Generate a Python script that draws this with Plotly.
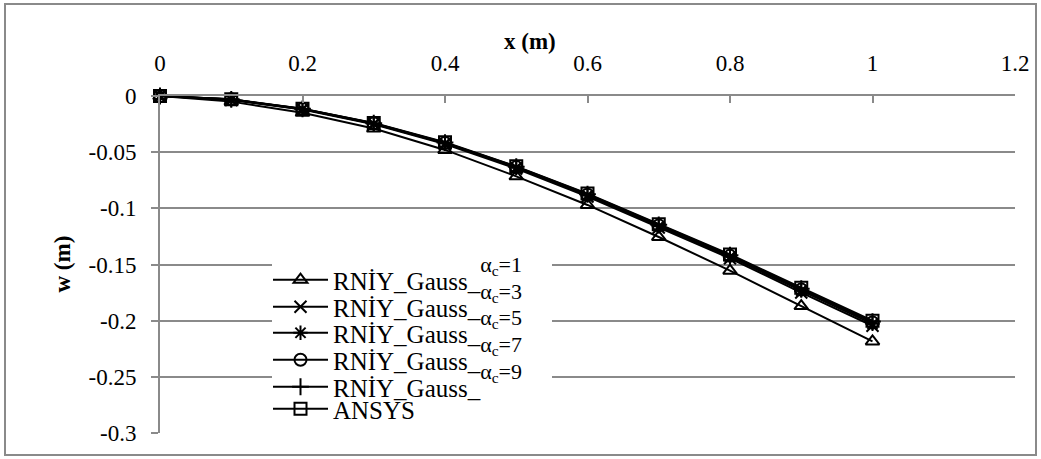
import plotly.graph_objects as go

x_vals = [0, 0.1, 0.2, 0.3, 0.4, 0.5, 0.6, 0.7, 0.8, 0.9, 1.0]

w_ac1 = [0, -0.005, -0.015, -0.029, -0.048, -0.0715, -0.097, -0.1255, -0.1555, -0.187, -0.2185]
w_ac3 = [0, -0.0035, -0.012, -0.0252, -0.0428, -0.0645, -0.0895, -0.117, -0.1445, -0.175, -0.2045]
w_ac5 = [0, -0.0032, -0.0117, -0.0247, -0.0422, -0.0638, -0.0885, -0.116, -0.1432, -0.1733, -0.2028]
w_ac7 = [0, -0.003, -0.0115, -0.0244, -0.0418, -0.0633, -0.0878, -0.1152, -0.1423, -0.1722, -0.2016]
w_ac9 = [0, -0.003, -0.0114, -0.0242, -0.0415, -0.063, -0.0874, -0.1147, -0.1417, -0.1715, -0.2008]
w_ansys = [0, -0.0029, -0.0113, -0.024, -0.0412, -0.0626, -0.0869, -0.1141, -0.141, -0.1707, -0.2]

alpha_values = ["1", "3", "5", "7", "9"]
series_names = [
    "RNİY_Gauss_<sup><sup><span style='font-size:22px'>α<sub>c</sub>=" + a + "</span></sup></sup>"
    for a in alpha_values
] + ["ANSYS"]
series_data = [w_ac1, w_ac3, w_ac5, w_ac7, w_ac9, w_ansys]
symbols = ["triangle-up-open", "x-thin", "asterisk", "circle-open", "cross-thin", "square-open"]

x_ticks = [0, 0.2, 0.4, 0.6, 0.8, 1.0, 1.2]
x_ticktext = ["0", "0.2", "0.4", "0.6", "0.8", "1", "1.2"]
y_ticks = [0, -0.05, -0.1, -0.15, -0.2, -0.25, -0.3]
y_ticktext = ["0", "-0.05", "-0.1", "-0.15", "-0.2", "-0.25", "-0.3"]

FONT = "Liberation Serif"
GRID = "#8a8a8a"
L, R, T, B = 160, 26, 96, 26
W, H = 1041, 459
PW, PH = W - L - R, H - T - B


def px_x(p):
    return (p - L) / PW


def px_y(p):
    return (H - B - p) / PH


legend_rows_px = [280, 307, 333, 360, 387, 409]
legend_ids = ["legend", "legend2", "legend3", "legend4", "legend5", "legend6"]

fig = go.Figure()
for name, data, sym, lid in zip(series_names, series_data, symbols, legend_ids):
    fig.add_trace(go.Scatter(
        x=x_vals, y=data, name=name, mode="lines+markers",
        line=dict(color="black", width=2),
        marker=dict(symbol=sym, size=12, color="black",
                    line=dict(color="black", width=2)),
        cliponaxis=False, legend=lid,
    ))

legend_layout = {}
for lid, row in zip(legend_ids, legend_rows_px):
    legend_layout[lid] = dict(
        x=px_x(268), y=px_y(row), xanchor="left", yanchor="middle",
        bgcolor="rgba(0,0,0,0)", borderwidth=0,
        font=dict(family=FONT, size=25, color="black"),
        itemwidth=55,
    )

fig.update_layout(
    width=W, height=H,
    margin=dict(l=L, r=R, t=T, b=B),
    paper_bgcolor="white", plot_bgcolor="white",
    font=dict(family=FONT, size=22, color="black"),
    showlegend=True,
    xaxis=dict(
        side="top", range=[0, 1.2], tickvals=x_ticks, ticktext=x_ticktext,
        showgrid=False, zeroline=False, showline=True, linecolor=GRID, linewidth=2,
        ticks="inside", ticklen=7, tickcolor=GRID, tickwidth=2,
        ticklabelstandoff=14,
        tickfont=dict(family=FONT, size=23, color="black"),
    ),
    yaxis=dict(
        range=[-0.3, 0], tickvals=y_ticks, ticktext=y_ticktext,
        showgrid=True, gridcolor=GRID, gridwidth=2, zeroline=False,
        showline=True, linecolor=GRID, linewidth=2,
        ticks="outside", ticklen=7, tickcolor=GRID, tickwidth=2,
        ticklabelstandoff=10,
        tickfont=dict(family=FONT, size=23, color="black"),
    ),
    annotations=[
        dict(text="<b>x (m)</b>", xref="paper", yref="paper",
             x=px_x(530), y=px_y(41), xanchor="center", yanchor="middle",
             showarrow=False, font=dict(family=FONT, size=23, color="black")),
        dict(text="<b>w (m)</b>", xref="paper", yref="paper",
             x=px_x(62), y=0.5, xanchor="center", yanchor="middle", textangle=-90,
             showarrow=False, font=dict(family=FONT, size=23, color="black")),
    ],
    shapes=[
        dict(type="rect", xref="paper", yref="paper",
             x0=px_x(5), x1=px_x(1036), y0=px_y(455), y1=px_y(4),
             line=dict(color=GRID, width=2), fillcolor="rgba(0,0,0,0)", layer="below"),
        dict(type="rect", xref="paper", yref="paper",
             x0=px_x(272), x1=px_x(552), y0=px_y(420), y1=px_y(256),
             line=dict(width=0), fillcolor="white", layer="above"),
    ],
    **legend_layout,
)

fig.write_html("out.html")
